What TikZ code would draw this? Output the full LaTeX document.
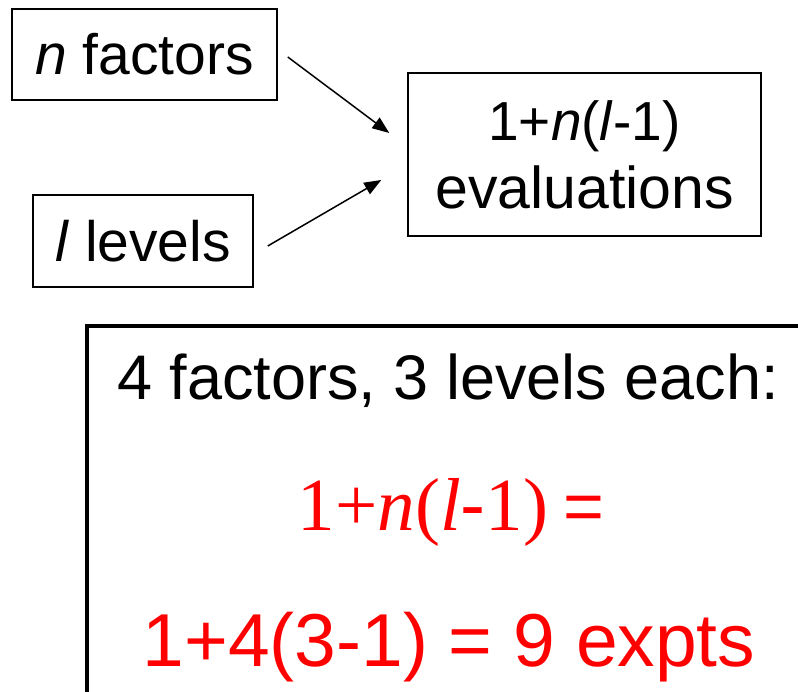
\documentclass[tikz,border=0pt]{standalone}
\usepackage{fontspec}
\setmainfont{Liberation Sans}
\newfontfamily\timesfont{Liberation Serif}
\usetikzlibrary{arrows.meta}
\begin{document}
\begin{tikzpicture}[x=1pt,y=1pt,
  box/.style={draw,line width=1.5pt,inner sep=0pt,align=center},
  arr/.style={line width=1.5pt,-{Triangle[length=17pt,width=13pt]}}]
  \clip (0,0) rectangle (798,691);
  \node[box,minimum width=265pt,minimum height=91pt,font=\fontsize{57}{60}\selectfont] (nfac) at (144.5,636.5) {\textit{n} factors};
  \node[box,minimum width=220pt,minimum height=92pt,font=\fontsize{57}{60}\selectfont] (llev) at (143,450) {\textit{l} levels};
  \node[box,minimum width=353pt,minimum height=163pt,font=\fontsize{55}{68}\selectfont] (evals) at (584.5,536.5) {1+\textit{n}(\textit{l}-1)\\\fontsize{59}{68}\selectfont evaluations};
  \draw[arr] ([shift={(10,-2.5)}]nfac.east) -- ([shift={(-18,21.5)}]evals.west);
  \draw[arr] ([shift={(14,-5)}]llev.east) -- ([shift={(-26,-25.5)}]evals.west);
  \draw[line width=3.5pt] (87,365) rectangle (840,-40);
  \node[anchor=base,font=\fontsize{63}{70}\selectfont] (given) at (448,291) {4 factors, 3 levels each:};
  \node[anchor=base,red,font=\fontsize{75}{80}\selectfont] (formula) at (451,160) {{\timesfont 1+\textit{n}(\textit{l}}-{\timesfont 1)}\hspace{15pt}{\fontsize{70}{80}\selectfont =}};
  \node[anchor=base,red,font=\fontsize{75}{80}\selectfont] (result) at (449,24) {1+4(3-1) = 9 expts};
\end{tikzpicture}
\end{document}
